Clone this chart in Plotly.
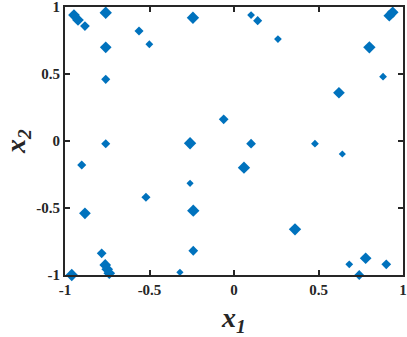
import plotly.graph_objects as go

# sample points
x1 = [-0.947, -0.923, -0.882, -0.759, -0.759, -0.759, -0.759, -0.562, -0.501, -0.243,
      -0.260, -0.061, 0.101, 0.140, 0.260, 0.919, 0.939, 0.801, 0.882, 0.621,
      0.101, 0.479, 0.641, 0.059, 0.361, 0.682, 0.779, 0.901, 0.741, -0.901,
      -0.882, -0.783, -0.762, -0.750, -0.738, -0.960, -0.521, -0.260, -0.241, -0.241,
      -0.320]
x2 = [0.940, 0.903, 0.858, 0.957, 0.699, 0.460, -0.020, 0.821, 0.722, 0.920,
      -0.017, 0.162, 0.940, 0.898, 0.761, 0.935, 0.960, 0.699, 0.480, 0.360,
      -0.020, -0.020, -0.097, -0.199, -0.659, -0.920, -0.875, -0.920, -1.000, -0.179,
      -0.540, -0.838, -0.925, -0.957, -0.987, -1.000, -0.420, -0.316, -0.520, -0.819,
      -0.980]
sizes = [9, 9, 7.5, 9.5, 9, 7, 7, 7, 6, 9.5,
         9.5, 7.5, 6, 7, 6, 9, 9, 9.5, 6, 9,
         7.5, 6, 5.5, 9.5, 9.5, 6, 9, 7.5, 7.5, 7,
         9, 7.5, 9, 9, 9, 9.5, 7, 5.5, 9.5, 7.5,
         5.5]

tick_vals = [-1, -0.5, 0, 0.5, 1]
tick_text = ["-1", "-0.5", "0", "0.5", "1"]

fig = go.Figure(go.Scatter(
    x=x1, y=x2, mode="markers", cliponaxis=False,
    marker=dict(symbol="diamond", size=sizes, color="#0072BD", opacity=1, line=dict(width=0)),
))

axis_style = dict(
    range=[-1.000001, 1.000001], tickvals=tick_vals, ticktext=tick_text,
    showline=True, linecolor="#262626", linewidth=2, mirror="ticks",
    ticks="inside", ticklen=5, tickwidth=2, tickcolor="#262626",
    showgrid=False, zeroline=False, automargin=False, ticklabeloverflow="allow",
    tickfont=dict(family="Liberation Serif", size=15, color="#262626", weight="bold"),
)

title_font = dict(family="Liberation Serif", size=28, color="#262626",
                  weight="bold", style="italic")

fig.update_xaxes(**axis_style, title=dict(text="x<sub>1</sub>", font=title_font))
fig.update_yaxes(**axis_style, title=dict(text="x<sub>2</sub>", font=title_font))

fig.update_layout(
    width=407, height=337,
    margin=dict(l=65, r=4, t=7, b=62),
    plot_bgcolor="white", paper_bgcolor="white",
    showlegend=False,
)

# drop the page's default body margin so the figure sits at the window's corner
fig.write_html("out.html", config={"displayModeBar": False},
               post_script="document.body.style.margin='0';")
